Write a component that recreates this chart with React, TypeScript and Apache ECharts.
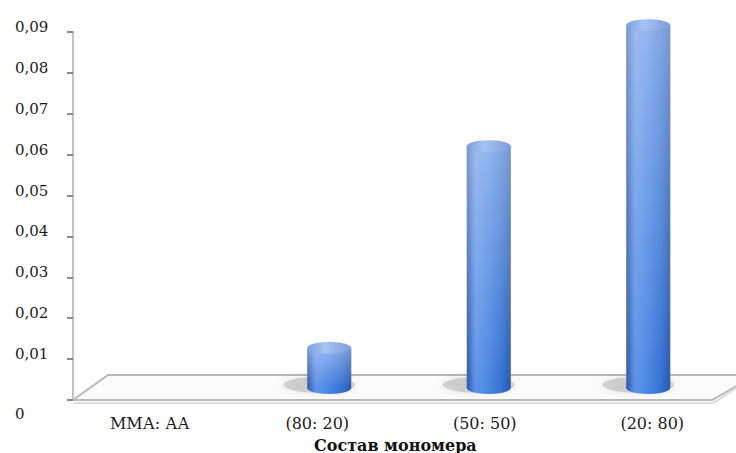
import React, { useEffect, useRef } from "react";
import * as echarts from "echarts";

const categories = ["ММА: АА", "(80: 20)", "(50: 50)", "(20: 80)"];
const values = [0, 0.01, 0.06, 0.09];
const yMin = 0;
const yMax = 0.09;
const yStep = 0.01;
const axisTitle = "Состав мономера";

const FONT = "'DejaVu Serif', 'Liberation Serif', serif";

export default function App() {
  const ref = useRef<HTMLDivElement>(null);
  useEffect(() => {
    if (!ref.current) return;
    const chart = echarts.init(ref.current, undefined, { renderer: "svg" });
    const body = new echarts.graphic.LinearGradient(0, 0, 1, 0, [
      { offset: 0, color: "#2c59a8" },
      { offset: 0.2, color: "#5e93e8" },
      { offset: 0.45, color: "#4f88e4" },
      { offset: 0.8, color: "#3471d2" },
      { offset: 1, color: "#2a58a8" },
    ]);
    const top = new echarts.graphic.LinearGradient(0, 0, 1, 0, [
      { offset: 0, color: "#7aa0df" },
      { offset: 0.4, color: "#a6c3f2" },
      { offset: 1, color: "#7b9ddb" },
    ]);
    const shine = new echarts.graphic.LinearGradient(0, 0, 0, 1, [
      { offset: 0, color: "rgba(255,255,255,0.38)" },
      { offset: 1, color: "rgba(255,255,255,0)" },
    ]);
    const shown = values.map((v) => (v === 0 ? "-" : v));
    chart.setOption({
      animation: false,
      grid: [
        { left: 90, right: 8, top: 25, bottom: 65 },
        { left: 73, right: 8, top: 32, bottom: 53 },
        { left: 66, right: -8, top: 32, bottom: 53 },
      ],
      xAxis: [
        { type: "category", data: categories, gridIndex: 0, show: false },
        { type: "category", data: categories, gridIndex: 1, show: false },
        {
          type: "category",
          data: categories,
          gridIndex: 2,
          axisLine: { show: false },
          axisTick: { show: false },
          axisLabel: { fontFamily: FONT, fontSize: 16, color: "#1a1a1a", margin: 15 },
        },
      ],
      yAxis: [
        { type: "value", gridIndex: 0, min: yMin, max: yMax, interval: yStep, show: false },
        {
          type: "value",
          gridIndex: 1,
          min: yMin,
          max: yMax,
          interval: yStep,
          splitLine: { show: false },
          axisLine: { show: true, lineStyle: { color: "#c4c4c4", width: 2 } },
          axisTick: { show: true, length: 6, lineStyle: { color: "#8a8a8a", width: 2 } },
          axisLabel: {
            margin: 58,
            align: "left",
            fontFamily: FONT,
            fontSize: 15,
            color: "#1a1a1a",
            formatter: (v: number) =>
              v === 0 ? "{z|0}" : "{a|" + v.toFixed(2).replace(".", ",") + "}",
            rich: {
              a: { fontFamily: FONT, fontSize: 15, color: "#1a1a1a", padding: [0, 0, 10, 0] },
              z: { fontFamily: FONT, fontSize: 15, color: "#1a1a1a", padding: [28, 0, 0, 0] },
            },
          },
        },
        { type: "value", gridIndex: 2, min: yMin, max: yMax, show: false },
      ],
      graphic: [
        {
          type: "polygon",
          z: 0,
          shape: { points: [[73, 400], [108, 375], [740, 375], [740, 384], [712, 400]] },
          style: { fill: "#fbfbfb", stroke: "#b9b9b9", lineWidth: 2 },
        },
        {
          type: "polyline",
          z: 0,
          shape: { points: [[73, 403], [713, 403], [740, 386]] },
          style: { stroke: "#dcdcdc", lineWidth: 2, fill: null },
        },
        {
          type: "text",
          left: 314,
          top: 437,
          style: { text: axisTitle, font: `bold 16px ${FONT}`, fill: "#111" },
        },
      ],
      series: [
        {
          type: "pictorialBar",
          xAxisIndex: 0,
          yAxisIndex: 0,
          data: shown,
          symbol: "circle",
          symbolSize: [72, 16],
          symbolPosition: "start",
          symbolOffset: [-10, "30%"],
          itemStyle: { color: "rgba(110,110,110,0.26)", shadowBlur: 10, shadowColor: "rgba(0,0,0,0.35)" },
          z: 1,
        },
        {
          type: "pictorialBar",
          xAxisIndex: 0,
          yAxisIndex: 0,
          data: shown,
          symbol: "circle",
          symbolSize: [44, 12],
          symbolPosition: "start",
          symbolOffset: [0, "50%"],
          itemStyle: { color: body },
          z: 2,
        },
        {
          type: "bar",
          xAxisIndex: 0,
          yAxisIndex: 0,
          data: values,
          barWidth: 44,
          itemStyle: { color: body },
          z: 3,
        },
        {
          type: "bar",
          xAxisIndex: 0,
          yAxisIndex: 0,
          data: values,
          barWidth: 44,
          barGap: "-100%",
          itemStyle: { color: shine },
          z: 4,
        },
        {
          type: "pictorialBar",
          xAxisIndex: 0,
          yAxisIndex: 0,
          data: shown,
          symbol: "circle",
          symbolSize: [44, 12],
          symbolPosition: "end",
          symbolOffset: [0, "-50%"],
          itemStyle: { color: top, borderColor: "#5a82c6", borderWidth: 1 },
          z: 5,
        },
      ],
    });
    return () => chart.dispose();
  }, []);
  return (
    <div
      ref={ref}
      style={{ position: "absolute", left: 0, top: 0, width: 736, height: 453 }}
    />
  );
}
